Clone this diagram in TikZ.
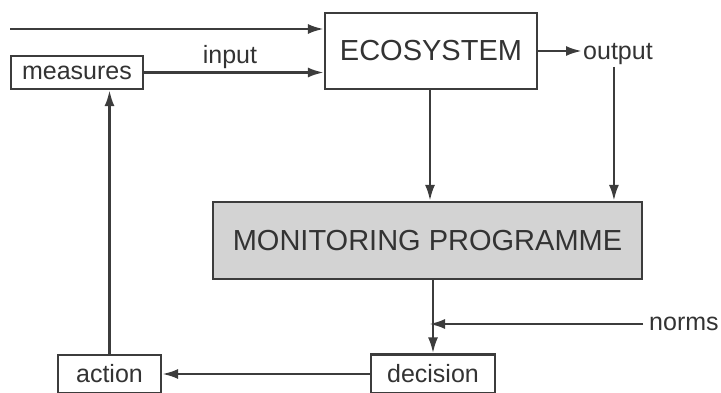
\documentclass[tikz,border=0pt]{standalone}
\usepackage{fontspec}
\setmainfont{Liberation Sans}
\usetikzlibrary{arrows.meta}
\definecolor{ln}{HTML}{3C3C3C}
\definecolor{tx}{HTML}{333333}
\definecolor{mpfill}{HTML}{D3D3D3}
\begin{document}
\begin{tikzpicture}[x=1pt,y=1pt,
  box/.style={draw=ln,line width=2.2pt,inner sep=0pt,text=tx,fill=white},
  big/.style={box,font=\fontsize{29}{32}\selectfont},
  small/.style={box,font=\fontsize{25}{28}\selectfont},
  lab/.style={inner sep=1pt,text=tx,font=\fontsize{25}{28}\selectfont},
  arr/.style={draw=ln,line width=2.6pt,-{Latex[length=16pt,width=10pt]}}]
\useasboundingbox (0,0) rectangle (721,-393);
\node[big,minimum width=212,minimum height=76] (eco) at (431,-51) {ECOSYSTEM};
\node[small,minimum width=132,minimum height=33] (meas) at (77,-72.5) {measures};
\node[big,fill=mpfill,minimum width=429,minimum height=77] (mp) at (427.5,-240.5) {MONITORING PROGRAMME};
\node[small,minimum width=124,minimum height=39] (dec) at (433,-374) {decision};
\node[small,minimum width=103,minimum height=38] (act) at (109.5,-374) {action};
\node[lab,anchor=west] (out) at (582,-54) {output};
\node[lab,anchor=west] (norms) at (648,-324) {norms};
\node[lab] (inp) at (230,-57) {input};
\coordinate (start) at (10,-29);
\draw[arr] (start) -- (start -| eco.west);
\draw[arr] (meas.east) -- (meas.east -| eco.west);
\draw[arr] (eco.east) -- (eco.east -| out.west);
\draw[arr] ([xshift=-4pt,yshift=-1pt]out.south) -- ([xshift=-4pt]out.south |- mp.north);
\draw[arr] (eco.south -| 430,0) -- (430,0 |- mp.north);
\draw[arr] (dec.north |- mp.south) -- (dec.north);
\draw[arr,shorten >=1pt] ([xshift=-5pt]norms.west) -- ([xshift=-5pt]norms.west -| dec.north);
\draw[arr] (dec.west) -- (act.east);
\draw[arr] (act.north) -- (act.north |- meas.south);
\end{tikzpicture}
\end{document}
